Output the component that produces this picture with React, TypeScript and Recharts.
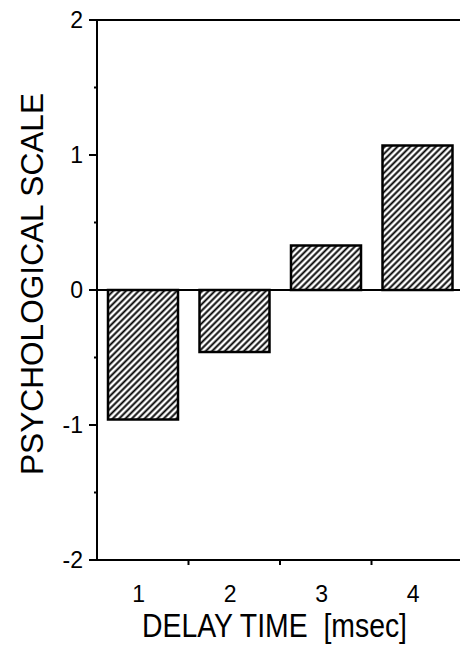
import { BarChart, Bar, XAxis, YAxis, ReferenceLine } from "recharts";

const delays = ["1", "2", "3", "4"];
const scaleValues = [-0.96, -0.46, 0.33, 1.07];
const yTicks = [-2, -1.5, -1, -0.5, 0, 0.5, 1, 1.5, 2];
const yTickLabels = ["-2", "-1", "0", "1", "2"];

const data = delays.map((d, i) => ({ delay: d, value: scaleValues[i] }));

const FONT = "'Liberation Sans', Arial, Helvetica, sans-serif";

function YTick({ x, y, payload }: any) {
  const v = payload.value;
  const major = Number.isInteger(v);
  return (
    <g>
      <line x1={x - (major ? 8 : 3)} y1={y} x2={x} y2={y} stroke="#000" strokeWidth={2} />
      {major && (
        <text x={x - 14} y={y} dy={8} textAnchor="end" fontSize={23} fontFamily={FONT} fill="#000">
          {yTickLabels[yTicks.filter((t) => Number.isInteger(t)).indexOf(v)]}
        </text>
      )}
    </g>
  );
}

function XTick({ x, y, payload, index }: any) {
  const half = payload.offset ?? 45.75;
  const last = index === delays.length - 1;
  return (
    <g>
      {!last && (
        <line x1={x + half} y1={y} x2={x + half} y2={y + 5} stroke="#000" strokeWidth={2} />
      )}
      <text x={x - 4} y={y + 42} textAnchor="middle" fontSize={23} fontFamily={FONT} fill="#000">
        {payload.value}
      </text>
    </g>
  );
}

function YLabel({ viewBox }: any) {
  const bx = 43;
  const cy = viewBox.y + viewBox.height / 2 - 6;
  return (
    <text
      x={bx}
      y={cy}
      transform={`rotate(-90, ${bx}, ${cy})`}
      textAnchor="middle"
      fontSize={32}
      fontFamily={FONT}
      fill="#000"
      textLength={382}
      lengthAdjust="spacingAndGlyphs"
    >
      PSYCHOLOGICAL SCALE
    </text>
  );
}

function XLabel({ viewBox }: any) {
  const cx = viewBox.x + viewBox.width / 2 - 5.5;
  return (
    <text
      x={cx}
      y={viewBox.y + 77}
      textAnchor="middle"
      fontSize={34}
      fontFamily={FONT}
      fill="#000"
      textLength={265}
      lengthAdjust="spacingAndGlyphs"
      xmlSpace="preserve"
    >
      DELAY TIME  [msec]
    </text>
  );
}

export default function App() {
  return (
    <div
      style={{
        position: "absolute",
        left: 0,
        top: 0,
        width: 460,
        height: 647,
        overflow: "hidden",
        background: "#fff",
      }}
    >
      <BarChart
        width={463}
        height={647}
        data={data}
        margin={{ top: 20, right: 0, bottom: 0, left: 0 }}
        barSize={70}
      >
        <defs>
          <pattern
            id="hatch"
            width={4.5}
            height={4.5}
            patternUnits="userSpaceOnUse"
            patternTransform="rotate(45)"
          >
            <rect width={4.5} height={4.5} fill="#fff" />
            <line x1={2.25} y1={0} x2={2.25} y2={4.5} stroke="#000" strokeWidth={1.9} />
          </pattern>
        </defs>
        <XAxis
          dataKey="delay"
          height={87}
          axisLine={{ stroke: "#000", strokeWidth: 2 }}
          tickLine={false}
          tickSize={0}
          tickMargin={0}
          tick={<XTick />}
          interval={0}
          label={<XLabel />}
        />
        <YAxis
          width={97}
          domain={[-2, 2]}
          ticks={yTicks}
          type="number"
          interval={0}
          axisLine={{ stroke: "#000", strokeWidth: 2 }}
          tickLine={false}
          tickSize={0}
          tickMargin={0}
          tick={<YTick />}
          label={<YLabel />}
        />
        <ReferenceLine y={2} stroke="#000" strokeWidth={2} />
        <ReferenceLine y={0} stroke="#000" strokeWidth={2} />
        <Bar
          dataKey="value"
          fill="url(#hatch)"
          stroke="#000"
          strokeWidth={2.5}
          isAnimationActive={false}
        />
      </BarChart>
    </div>
  );
}
